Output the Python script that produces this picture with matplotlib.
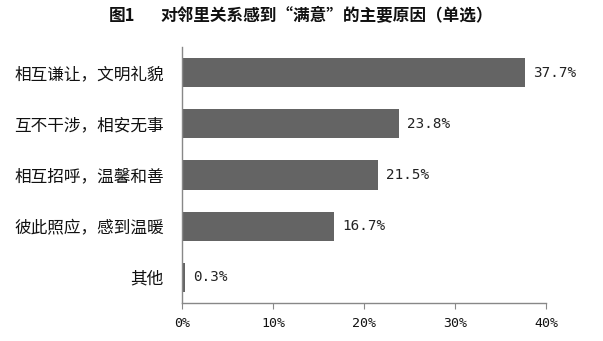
import matplotlib
matplotlib.use("Agg")
import matplotlib.pyplot as plt
from matplotlib.ticker import FuncFormatter

plt.rcParams["font.family"] = ["Noto Sans CJK SC", "DejaVu Sans"]

fig_no = "图1"
title = "对邻里关系感到“满意”的主要原因（单选）"
categories = ["相互谦让，文明礼貌", "互不干涉，相安无事", "相互招呼，温馨和善",
              "彼此照应，感到温暖", "其他"]
values = [37.7, 23.8, 21.5, 16.7, 0.3]
xticks = [0, 10, 20, 30, 40]

fig = plt.figure(figsize=(6.03, 3.41), dpi=100)
ax = fig.add_axes([182 / 603, 1 - 303 / 341, 364 / 603, 256 / 341])

pos = list(range(len(categories)))
ax.barh(pos, values, height=0.57, color="#646464")
ax.set_ylim(len(categories) - 0.5, -0.5)
ax.set_xlim(0, 40)

for p, v in zip(pos, values):
    ax.text(v + 0.9, p, f"{v:.1f}%", va="center", ha="left",
            fontsize=10.3, family="DejaVu Sans Mono", color="#222222")

ax.set_yticks(pos)
ax.set_yticklabels(categories, fontsize=12, color="#111111")
ax.tick_params(axis="y", length=0, pad=13)
ax.set_xticks(xticks)
ax.xaxis.set_major_formatter(FuncFormatter(lambda x, _: f"{x:.0f}%"))
ax.tick_params(axis="x", length=4, color="#888888", pad=6, labelsize=9.5,
               labelcolor="#111111")
for lab in ax.get_xticklabels():
    lab.set_family("DejaVu Sans Mono")

for s in ["top", "right"]:
    ax.spines[s].set_visible(False)
for s in ["left", "bottom"]:
    ax.spines[s].set_color("#888888")
    ax.spines[s].set_linewidth(1)

ty = 1 - 16 / 341
fig.text(109 / 603, ty, fig_no, ha="left", va="center",
         fontsize=12, fontweight="bold", color="#111111")
fig.text(160 / 603, ty, title, ha="left", va="center",
         fontsize=12, fontweight="bold", color="#111111")

fig.savefig("out.png", dpi=100)
